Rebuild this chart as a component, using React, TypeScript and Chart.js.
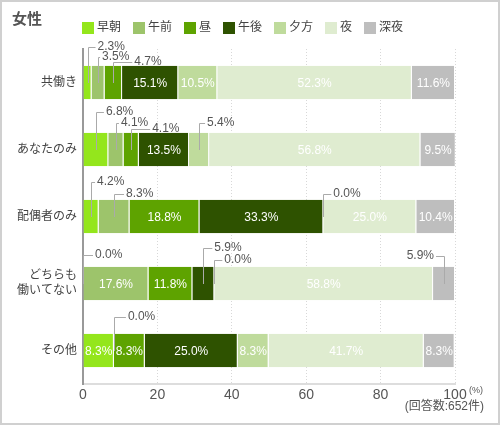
import React, { useEffect, useRef } from 'react';
import { Chart, registerables } from 'chart.js';

Chart.register(...registerables);

const FONT = "'Liberation Sans', 'Noto Sans CJK JP', sans-serif";

const categories: (string | string[])[] = ['共働き', 'あなたのみ', '配偶者のみ', ['どちらも', '働いてない'], 'その他'];
const seriesNames = ['早朝', '午前', '昼', '午後', '夕方', '夜', '深夜'];
const earlyMorning = [2.3, 6.8, 4.2, 0.0, 8.3];
const morning = [3.5, 4.1, 8.3, 17.6, 0.0];
const noon = [4.7, 4.1, 18.8, 11.8, 8.3];
const afternoon = [15.1, 13.5, 33.3, 5.9, 25.0];
const evening = [10.5, 5.4, 0.0, 0.0, 8.3];
const night = [52.3, 56.8, 25.0, 58.8, 41.7];
const lateNight = [11.6, 9.5, 10.4, 5.9, 8.3];
const seriesValues = [earlyMorning, morning, noon, afternoon, evening, night, lateNight];
const seriesColors = ['#94e61c', '#9dc46b', '#5ea300', '#2e5200', '#bfdb9c', '#dfecd0', '#bebebe'];
const xTickValues = [0, 20, 40, 60, 80, 100];
const sampleNote = '(回答数:652件)';
const titleText = '女性';

// label placement for small segments: [row, series, textY offset from bar top, textX offset from leader line]
const callouts: [number, number, number, number][] = [
  [0, 0, -19, 10], [0, 1, -9, 4], [0, 2, -4, 21],
  [1, 0, -21, 10], [1, 1, -10, 5], [1, 2, -4, 21], [1, 4, -10, 8],
  [2, 0, -18, 6], [2, 1, -6, 12], [2, 4, -6, 10],
  [3, 0, -12, 12], [3, 3, -19, 11], [3, 4, -7, 10], [3, 6, -11, -10],
  [4, 1, -17, 14],
];

const labelPlugin = {
  id: 'segLabels',
  beforeDraw(chart: any) {
    const ctx = chart.ctx;
    ctx.save();
    ctx.fillStyle = '#ffffff';
    ctx.fillRect(0, 0, chart.width, chart.height);
    ctx.restore();
  },
  afterDatasetsDraw(chart: any) {
    const ctx = chart.ctx;
    ctx.save();
    ctx.font = `12px ${FONT}`;
    chart.data.datasets.forEach((ds: any, si: number) => {
      const meta = chart.getDatasetMeta(si);
      meta.data.forEach((el: any, ri: number) => {
        const v = ds.data[ri];
        const p = el.getProps(['x', 'base', 'y', 'height'], true);
        const cx = (p.x + p.base) / 2;
        const txt = v.toFixed(1) + '%';
        const c = callouts.find((k) => k[0] === ri && k[1] === si);
        if (c) {
          const top = p.y - p.height / 2;
          const ty = top + c[2];
          const tx = cx + c[3];
          ctx.strokeStyle = '#aaaaaa';
          ctx.lineWidth = 1;
          ctx.beginPath();
          const lx = Math.round(cx) + 0.5;
          const ly = Math.round(ty) + 0.5;
          ctx.moveTo(lx, Math.round(p.y));
          ctx.lineTo(lx, ly);
          ctx.lineTo(c[3] > 0 ? tx - 2 : tx + 2, ly);
          ctx.stroke();
          ctx.fillStyle = '#555555';
          ctx.textBaseline = 'middle';
          ctx.textAlign = c[3] > 0 ? 'left' : 'right';
          ctx.fillText(txt, tx, ty);
        } else if (v > 0) {
          ctx.fillStyle = '#ffffff';
          ctx.textBaseline = 'middle';
          ctx.textAlign = 'center';
          ctx.fillText(txt, cx, p.y + 1);
        }
      });
    });
    ctx.restore();
  },
  afterDraw(chart: any) {
    const ctx = chart.ctx;
    ctx.save();
    // frame
    ctx.strokeStyle = '#d0d0d0';
    ctx.lineWidth = 2;
    ctx.strokeRect(1, 1, chart.width - 2, chart.height - 2);
    // title
    ctx.fillStyle = '#555555';
    ctx.font = `bold 15px ${FONT}`;
    ctx.textBaseline = 'middle';
    ctx.textAlign = 'left';
    ctx.fillText(titleText, 12, 20);
    // legend
    ctx.font = `12px ${FONT}`;
    let x = chart.chartArea.left - 1;
    chart.data.datasets.forEach((ds: any) => {
      ctx.fillStyle = ds.backgroundColor;
      ctx.fillRect(x, 22, 12, 12);
      ctx.fillStyle = '#444444';
      ctx.fillText(ds.label, x + 15, 28);
      x += 15 + ctx.measureText(ds.label).width + 12;
    });
    // unit and note
    const xs = chart.scales.x;
    ctx.fillStyle = '#555555';
    ctx.font = `9px ${FONT}`;
    ctx.fillText('(%)', xs.getPixelForValue(100) + 14, 391);
    ctx.font = `12px ${FONT}`;
    ctx.textAlign = 'right';
    ctx.fillText(sampleNote, 484, 407);
    ctx.restore();
  },
};

export default function App() {
  const ref = useRef<HTMLCanvasElement | null>(null);
  useEffect(() => {
    if (!ref.current) return;
    const chart = new Chart(ref.current, {
      type: 'bar',
      data: {
        labels: categories as any,
        datasets: seriesNames.map((name, i) => ({
          label: name,
          data: seriesValues[i],
          backgroundColor: seriesColors[i],
          borderColor: 'rgba(255,255,255,0.55)',
          borderWidth: { top: 0, bottom: 0, left: 0, right: 1 },
          borderSkipped: false,
          barPercentage: 0.5,
          categoryPercentage: 1,
        })),
      },
      options: {
        indexAxis: 'y',
        animation: false,
        responsive: true,
        maintainAspectRatio: false,
        devicePixelRatio: 1,
        layout: { padding: { top: 49, right: 45, bottom: 21, left: 0 } },
        plugins: { legend: { display: false }, tooltip: { enabled: false }, title: { display: false } },
        scales: {
          x: {
            stacked: true,
            min: 0,
            max: 100,
            afterFit: (s: any) => { s.height = 20; },
            afterBuildTicks: (s: any) => { s.ticks = xTickValues.map((v) => ({ value: v })); },
            grid: { display: true, color: '#d8d8d8', lineWidth: 1, drawTicks: false },
            border: { display: true, color: '#dddddd', width: 2, dash: [1, 2] },
            ticks: { color: '#555555', font: { size: 14, family: FONT }, padding: 3, maxRotation: 0, autoSkip: false },
          },
          y: {
            stacked: true,
            afterFit: (s: any) => { s.width = 83; },
            grid: { display: false, drawTicks: false },
            border: { display: true, color: '#999999', width: 2 },
            ticks: { color: '#444444', font: { size: 12, family: FONT, lineHeight: 1.25 }, padding: 6 },
          },
        },
      },
      plugins: [labelPlugin],
    });
    return () => chart.destroy();
  }, []);
  return (
    <div style={{ position: 'absolute', left: 0, top: 0, width: 500, height: 425 }}>
      <canvas ref={ref} />
    </div>
  );
}
